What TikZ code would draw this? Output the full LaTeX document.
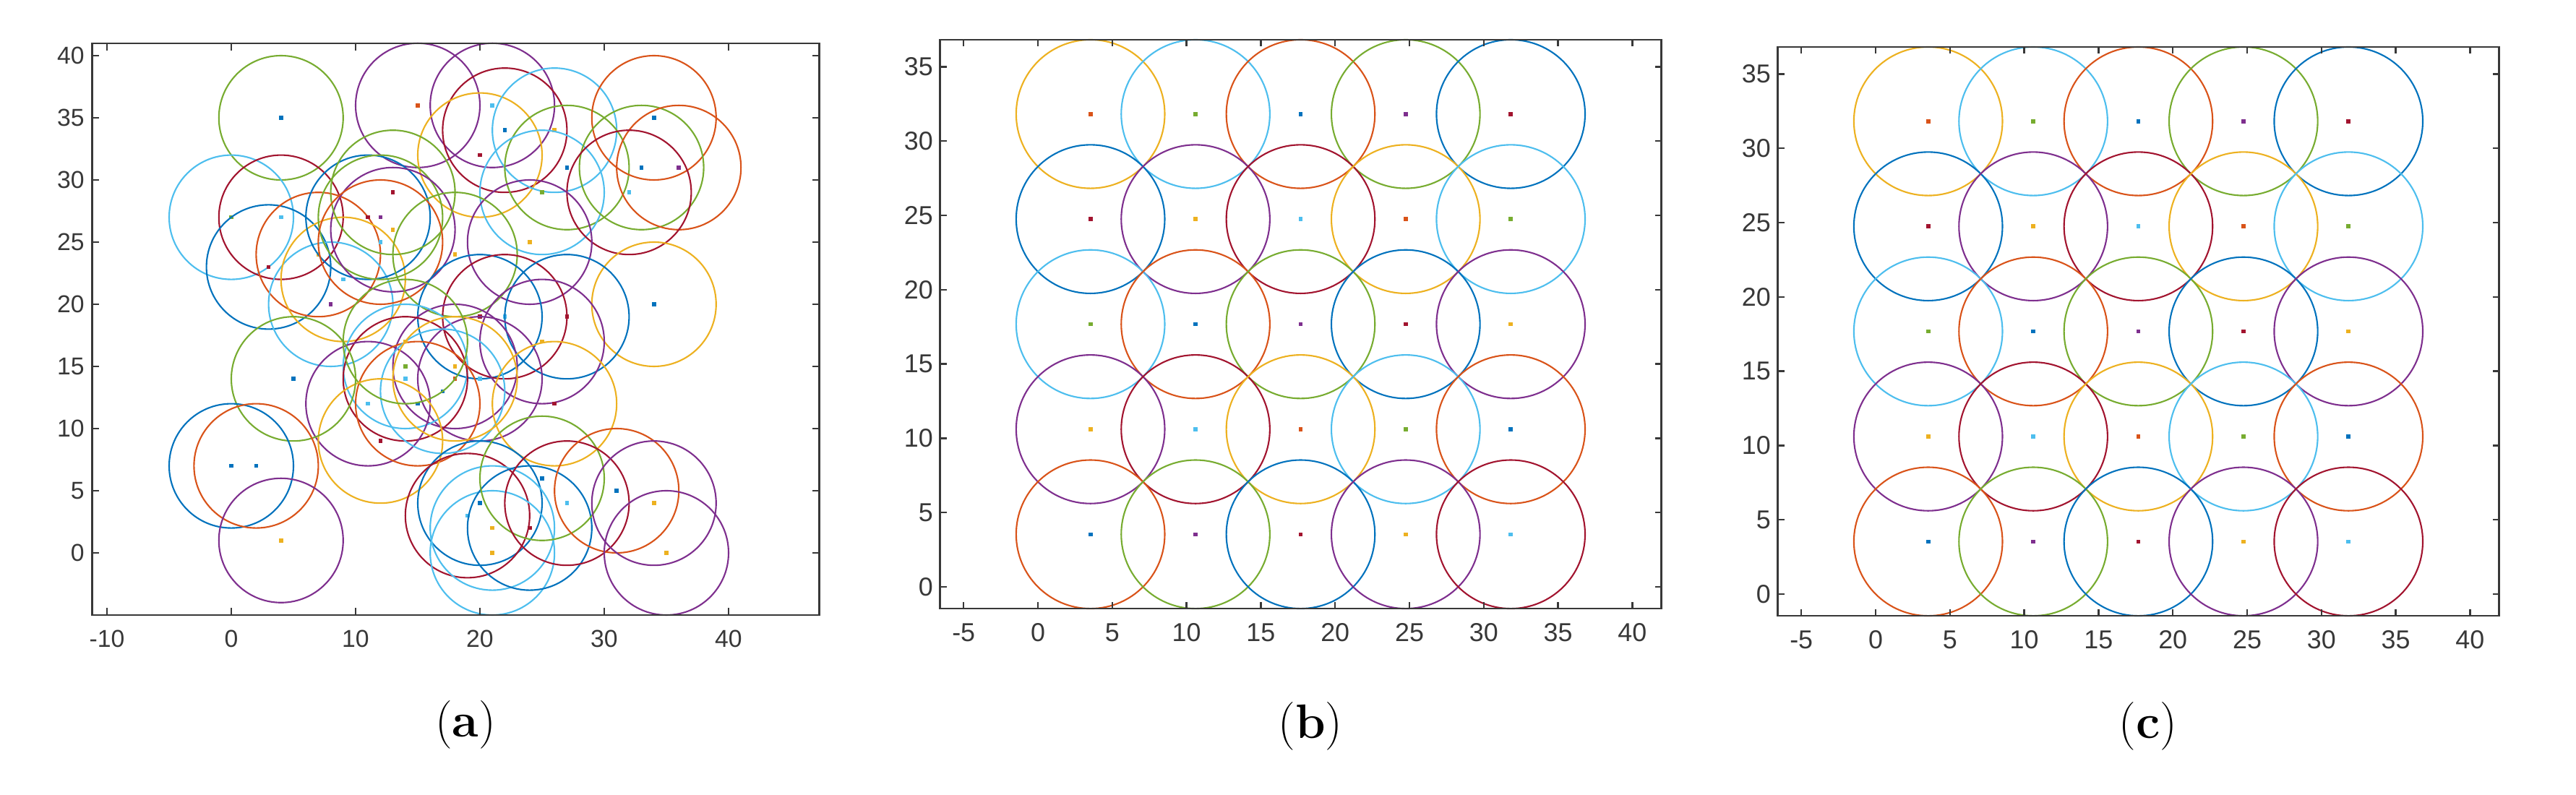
\documentclass[tikz,border=0pt]{standalone}
\usepackage{fontspec}
\setsansfont{Liberation Sans}
\definecolor{mB}{rgb}{0,0.447,0.741}
\definecolor{mO}{rgb}{0.85,0.325,0.098}
\definecolor{mY}{rgb}{0.929,0.694,0.125}
\definecolor{mP}{rgb}{0.494,0.184,0.556}
\definecolor{mG}{rgb}{0.466,0.674,0.188}
\definecolor{mL}{rgb}{0.301,0.745,0.933}
\definecolor{mR}{rgb}{0.635,0.078,0.184}
\definecolor{axc}{rgb}{0.22,0.22,0.22}
\tikzset{
  circ/.style={line width=0.6pt},
  axbox/.style={draw=axc, line width=0.7pt},
  ticklab/.style={text=axc, font=\sffamily\fontsize{9.6}{11}\selectfont, inner sep=0pt},
  ticklabb/.style={text=axc, font=\sffamily\fontsize{10.2}{12}\selectfont, inner sep=0pt},
  caption/.style={font=\fontsize{19}{23}\selectfont, inner sep=0pt}
}
\newcommand\nodecirc[4]{%
  \draw[circ,#3] (#1,#2) circle[radius=5];
  \fill[#4] (#1,#2) ++(-0.028cm,-0.028cm) rectangle ++(0.056cm,0.056cm);}
\begin{document}
\begin{tikzpicture}
\useasboundingbox (0,0) rectangle (35.64,11);
\fill[white] (0,0) rectangle (35.64,11);

% ---------------- panel (a) ----------------
\begin{scope}[shift={(3.20,3.35)}, x=0.172cm, y=0.172cm]
\foreach \px/\py/\cc/\dc in {
  4/35/mG/mB, 15/36/mP/mO, 21/36/mP/mL, 22/34/mR/mB, 20/32/mY/mR,
  26/34/mL/mY, 27/31/mG/mB, 25/29/mL/mG, 34/35/mO/mB, 33/31/mG/mB,
  36/31/mO/mP, 32/29/mR/mL, 24/25/mP/mY, 34/20/mY/mB, 0/27/mL/mG,
  4/27/mR/mL, 3/23/mB/mR, 7/24/mO/mY, 8/20/mL/mP, 9/22/mY/mL,
  11/27/mB/mR, 12/27/mG/mP, 13/26/mP/mY, 13/29/mG/mR, 12/25/mO/mL,
  18/24/mG/mY, 20/19/mB/mR, 22/19/mR/mL, 27/19/mB/mR, 25/17/mP/mY,
  18/15/mP/mY, 20/14/mP/mL, 14/15/mL/mG, 14/14/mR/mL, 11/12/mP/mL,
  15/12/mO/mB, 17/13/mL/mB, 18/14/mY/mO, 14/17/mG/mY, 12/9/mY/mR,
  5/14/mG/mB, 26/12/mY/mR, 0/7/mB/mB, 2/7/mO/mB, 4/1/mP/mY,
  20/4/mB/mB, 19/3/mR/mL, 21/2/mL/mY, 21/0/mL/mY, 24/2/mB/mR,
  25/6/mG/mB, 27/4/mR/mL, 31/5/mO/mB, 34/4/mP/mY, 35/0/mP/mY}
  {\nodecirc{\px}{\py}{\cc}{\dc}}
\draw[axbox] (-11.2,-5) rectangle (47.3,41);
\foreach \t in {-10,0,10,20,30,40} {
  \draw[axbox] (\t,-5) -- ++(0,0.1cm);
  \draw[axbox] (\t,41) -- ++(0,-0.1cm);
  \node[ticklab] (ax\t) at (\t,-5) [yshift=-0.33cm] {\t};
}
\foreach \t in {0,5,...,40} {
  \draw[axbox] (-11.2,\t) -- ++(0.1cm,0);
  \draw[axbox] (47.3,\t) -- ++(-0.1cm,0);
  \node[ticklab, anchor=east] (ay\t) at (-11.2,\t) [xshift=-0.1cm] {\t};
}
\end{scope}
\node[caption] (capa) at (6.44,0.97) {(\textbf{a})};

% ---------------- panel (b) ----------------
\begin{scope}[shift={(14.36,2.88)}, x=0.2056cm, y=0.2056cm]
\foreach \j/\row in {4/{mY,mL,mO,mG,mB}, 3/{mB,mP,mR,mY,mL}, 2/{mL,mO,mG,mB,mP}, 1/{mP,mR,mY,mL,mO}, 0/{mO,mG,mB,mP,mR}} {
  \foreach \cc [count=\i from 0] in \row {
    \pgfmathsetmacro\cx{3.5355+7.0711*\i}
    \pgfmathsetmacro\cy{3.5355+7.0711*\j}
    \draw[circ,\cc] (\cx,\cy) circle[radius=5];
  }
}
\foreach \j/\row in {4/{mO,mG,mB,mP,mR}, 3/{mR,mY,mL,mO,mG}, 2/{mG,mB,mP,mR,mY}, 1/{mY,mL,mO,mG,mB}, 0/{mB,mP,mR,mY,mL}} {
  \foreach \dc [count=\i from 0] in \row {
    \pgfmathsetmacro\cx{3.5355+7.0711*\i}
    \pgfmathsetmacro\cy{3.5355+7.0711*\j}
    \fill[\dc] (\cx,\cy) ++(-0.028cm,-0.028cm) rectangle ++(0.056cm,0.056cm);
  }
}
\draw[axbox] (-6.59,-1.46) rectangle (41.95,36.82);
\foreach \t in {-5,0,5,...,40} {
  \draw[axbox] (\t,-1.46) -- ++(0,0.09cm);
  \draw[axbox] (\t,36.82) -- ++(0,-0.09cm);
  \node[ticklabb] (bx\t) at (\t,-1.46) [yshift=-0.33cm] {\t};
}
\foreach \t in {0,5,...,35} {
  \draw[axbox] (-6.59,\t) -- ++(0.09cm,0);
  \draw[axbox] (41.95,\t) -- ++(-0.09cm,0);
  \node[ticklabb, anchor=east] (by\t) at (-6.59,\t) [xshift=-0.09cm] {\t};
}
\end{scope}
\node[caption] (capb) at (18.13,0.95) {(\textbf{b})};

% ---------------- panel (c) ----------------
\begin{scope}[shift={(25.95,2.78)}, x=0.2056cm, y=0.2056cm]
\foreach \j/\row in {4/{mY,mL,mO,mG,mB}, 3/{mB,mP,mR,mY,mL}, 2/{mL,mO,mG,mB,mP}, 1/{mP,mR,mY,mL,mO}, 0/{mO,mG,mB,mP,mR}} {
  \foreach \cc [count=\i from 0] in \row {
    \pgfmathsetmacro\cx{3.5355+7.0711*\i}
    \pgfmathsetmacro\cy{3.5355+7.0711*\j}
    \draw[circ,\cc] (\cx,\cy) circle[radius=5];
  }
}
\foreach \j/\row in {4/{mO,mG,mB,mP,mR}, 3/{mR,mY,mL,mO,mG}, 2/{mG,mB,mP,mR,mY}, 1/{mY,mL,mO,mG,mB}, 0/{mB,mP,mR,mY,mL}} {
  \foreach \dc [count=\i from 0] in \row {
    \pgfmathsetmacro\cx{3.5355+7.0711*\i}
    \pgfmathsetmacro\cy{3.5355+7.0711*\j}
    \fill[\dc] (\cx,\cy) ++(-0.028cm,-0.028cm) rectangle ++(0.056cm,0.056cm);
  }
}
\draw[axbox] (-6.59,-1.46) rectangle (41.95,36.82);
\foreach \t in {-5,0,5,...,40} {
  \draw[axbox] (\t,-1.46) -- ++(0,0.09cm);
  \draw[axbox] (\t,36.82) -- ++(0,-0.09cm);
  \node[ticklabb] (cx\t) at (\t,-1.46) [yshift=-0.33cm] {\t};
}
\foreach \t in {0,5,...,35} {
  \draw[axbox] (-6.59,\t) -- ++(0.09cm,0);
  \draw[axbox] (41.95,\t) -- ++(-0.09cm,0);
  \node[ticklabb, anchor=east] (cy\t) at (-6.59,\t) [xshift=-0.09cm] {\t};
}
\end{scope}
\node[caption] (capc) at (29.72,0.95) {(\textbf{c})};
\end{tikzpicture}
\end{document}
